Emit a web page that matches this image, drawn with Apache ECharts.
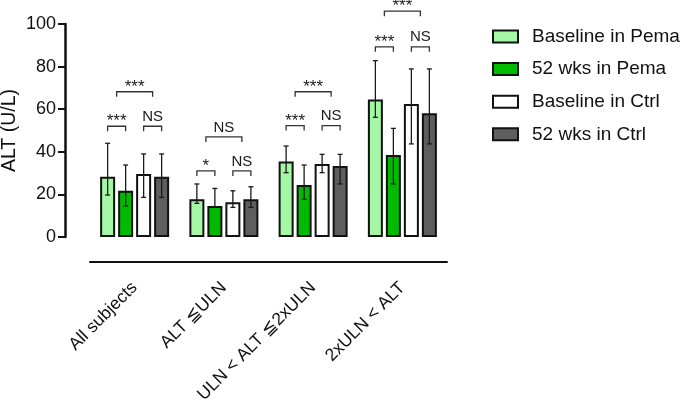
<!DOCTYPE html>
<html><head><meta charset="utf-8">
<script src="https://cdn.jsdelivr.net/npm/echarts@6/dist/echarts.min.js"></script>
<style>html,body{margin:0;padding:0;background:#fff}#c{width:685px;height:405px}</style>
</head><body><div id="c"></div>
<script>
// ---- data ----
const categories = ['All subjects', 'ALT ≦ULN', 'ULN < ALT ≦2xULN', '2xULN < ALT'];
const seriesNames = ['Baseline in Pema', '52 wks in Pema', 'Baseline in Ctrl', '52 wks in Ctrl'];
const baselinePema = [28.3, 17.7, 35.4, 64.6];
const wks52Pema    = [21.7, 14.6, 24.4, 38.5];
const baselineCtrl = [29.6, 16.3, 34.3, 62.4];
const wks52Ctrl    = [28.3, 17.7, 33.3, 58.1];
const baselinePemaLow  = [19.7, 15.8, 30.2, 56.2];
const baselinePemaHigh = [44.0, 24.9, 42.7, 82.8];
const wks52PemaLow  = [14.6, 14.2, 17.7, 24.9];
const wks52PemaHigh = [33.8, 22.8, 33.8, 51.0];
const baselineCtrlLow  = [18.6, 13.9, 30.2, 43.7];
const baselineCtrlHigh = [39.0, 21.7, 38.8, 78.9];
const wks52CtrlLow  = [18.6, 13.9, 24.9, 43.7];
const wks52CtrlHigh = [39.0, 23.6, 38.8, 78.9];
// significance brackets (heights in ALT units)
const pairBracketLevel  = [52.0, 31.0, 52.3, 89.3];
const groupBracketLevel = [68.2, 47.0, 68.2, 106.0];
const sigPema  = ['***', '*', '***', '***'];
const sigCtrl  = ['NS', 'NS', 'NS', 'NS'];
const sigGroup = ['***', 'NS', '***', '***'];
const yTicks = [0, 20, 40, 60, 80, 100];

// ---- styles ----
const FONT = '"Liberation Sans", Arial, sans-serif';
const colors = ['#a4f7a4', '#00ba00', '#ffffff', '#5e5e5e'];
const values = [baselinePema, wks52Pema, baselineCtrl, wks52Ctrl];
const lows = [baselinePemaLow, wks52PemaLow, baselineCtrlLow, wks52CtrlLow];
const highs = [baselinePemaHigh, wks52PemaHigh, baselineCtrlHigh, wks52CtrlHigh];
const BAR_W = 15, PITCH = 18;
const offsets = [-1.5 * PITCH, -0.5 * PITCH, 0.5 * PITCH, 1.5 * PITCH];

function errRender(off) {
  return function (params, api) {
    const c = api.value(0);
    const lo = api.coord([c, api.value(1)]);
    const hi = api.coord([c, api.value(2)]);
    const x = lo[0] + off;
    const st = { stroke: '#1a1a1a', lineWidth: 1.3 };
    return {
      type: 'group', children: [
        { type: 'line', shape: { x1: x, y1: lo[1], x2: x, y2: hi[1] }, style: st },
        { type: 'line', shape: { x1: x - 2.5, y1: lo[1], x2: x + 2.5, y2: lo[1] }, style: st },
        { type: 'line', shape: { x1: x - 2.5, y1: hi[1], x2: x + 2.5, y2: hi[1] }, style: st }
      ]
    };
  };
}

function bracket(x1, x2, y, st) {
  return { type: 'polyline', shape: { points: [[x1, y + 5], [x1, y], [x2, y], [x2, y + 5]] }, style: st };
}
function sigText(t, x, y) {
  const star = t.indexOf('*') === 0;
  return {
    type: 'text', style: {
      text: t, x: x, y: star ? y + 4 : y - 2, align: 'center', verticalAlign: 'bottom',
      fontSize: star ? 17 : 15, fontFamily: FONT, fill: '#1a1a1a'
    }
  };
}
function bracketRender(params, api) {
  const c = api.value(0);
  const p1 = api.coord([c, api.value(1)]);
  const p2 = api.coord([c, api.value(2)]);
  const cx = p1[0];
  const st = { stroke: '#333', lineWidth: 1.3, fill: null };
  const i = params.dataIndex;
  return {
    type: 'group', children: [
      bracket(cx + offsets[0], cx + offsets[1], p1[1], st),
      bracket(cx + offsets[2], cx + offsets[3], p1[1], st),
      bracket(cx - PITCH, cx + PITCH, p2[1], st),
      sigText(sigPema[i], cx - PITCH, p1[1]),
      sigText(sigCtrl[i], cx + PITCH, p1[1]),
      sigText(sigGroup[i], cx, p2[1])
    ]
  };
}

const series = [];
seriesNames.forEach((n, k) => {
  series.push({
    name: n, type: 'bar', data: values[k], barWidth: BAR_W, barGap: '20%',
    itemStyle: { color: colors[k], borderColor: '#111', borderWidth: 2 },
    emphasis: { disabled: true }, z: 2
  });
});
seriesNames.forEach((n, k) => {
  series.push({
    type: 'custom', renderItem: errRender(offsets[k]), clip: false, z: 5,
    data: categories.map((_, i) => [i, lows[k][i], highs[k][i]]),
    encode: { x: 0, y: [1, 2] }, silent: true
  });
});
series.push({
  type: 'custom', renderItem: bracketRender, clip: false, z: 5, silent: true,
  data: categories.map((_, i) => [i, pairBracketLevel[i], groupBracketLevel[i]]),
  encode: { x: 0, y: [1, 2] }
});

const chart = echarts.init(document.getElementById('c'), null, { renderer: 'canvas' });
chart.setOption({
  animation: false,
  textStyle: { fontFamily: FONT },
  grid: { left: 90, right: 238, top: 24, bottom: 168, containLabel: false, outerBoundsMode: 'none' },
  legend: {
    data: seriesNames, orient: 'vertical', left: 492, top: 27, icon: 'rect', padding: 0,
    itemWidth: 25, itemHeight: 12, itemGap: 13.6,
    itemStyle: { borderColor: '#111', borderWidth: 2 },
    textStyle: { fontSize: 19, color: '#111', fontFamily: FONT, padding: [0, 0, 0, 9] },
    selectedMode: false
  },
  xAxis: {
    type: 'category', data: categories, offset: 25,
    axisLine: { onZero: false, lineStyle: { color: '#111', width: 2 } },
    axisTick: { show: false },
    axisLabel: { rotate: 45, fontSize: 17.5, color: '#111', margin: 23, fontFamily: FONT, interval: 0 }
  },
  yAxis: {
    type: 'value', min: yTicks[0], max: yTicks[yTicks.length - 1], interval: 20, offset: 25,
    name: 'ALT (U/L)', nameLocation: 'middle', nameGap: 45, nameMoveOverlap: false,
    nameTextStyle: { fontSize: 19.5, color: '#111', fontFamily: FONT },
    axisLine: { show: true, onZero: false, lineStyle: { color: '#111', width: 2.5 } },
    axisTick: { show: true, length: 7, lineStyle: { color: '#111', width: 2 } },
    axisLabel: { fontSize: 18, color: '#111', margin: 9, fontFamily: FONT },
    splitLine: { show: false }
  },
  series: series
});
</script>
</body></html>
